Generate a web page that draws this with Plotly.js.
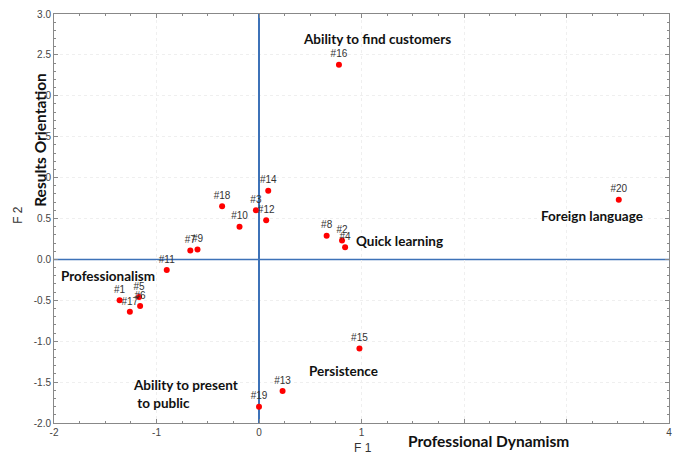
<!DOCTYPE html>
<html><head><meta charset="utf-8">
<script src="https://cdn.plot.ly/plotly-3.0.1.min.js"></script>
<style>html,body{margin:0;padding:0;background:#fff}#chart{width:684px;height:454px}</style>
</head><body><div id="chart"></div>
<script>
// Data
const pointLabels = ["#1","#2","#3","#4","#5","#6","#7","#8","#9","#10","#11","#12","#13","#14","#15","#16","#17","#18","#19","#20"];
const f1Values = [-1.36, 0.81, -0.03, 0.84, -1.17, -1.16, -0.67, 0.66, -0.60, -0.19, -0.90, 0.07, 0.23, 0.09, 0.98, 0.78, -1.26, -0.36, 0.00, 3.51];
const f2Values = [-0.50, 0.23, 0.60, 0.15, -0.46, -0.57, 0.11, 0.29, 0.12, 0.40, -0.13, 0.48, -1.61, 0.84, -1.09, 2.38, -0.64, 0.65, -1.80, 0.73];

const xTickVals = [-2, -1, 0, 1, 2, 3, 4];
const xTickText = ["-2", "-1", "0", "1", "", "", "4"];
const yTickVals = [-2.0, -1.5, -1.0, -0.5, 0.0, 0.5, 1.0, 1.5, 2.0, 2.5, 3.0];
const yTickText = ["-2.0", "-1.5", "-1.0", "-0.5", "0.0", "0.5", ".0", ".5", ".0", "2.5", "3.0"];

const groupNames = ["Ability to find customers", "Foreign language", "Quick learning", "Professionalism", "Persistence", "Ability to present<br> to public"];
const groupX = [1.15, 3.25, 1.37, -1.47, 0.82, -0.72];
const groupY = [2.70, 0.53, 0.23, -0.20, -1.37, -1.65];

const boldFont = {family: "Lato, 'Open Sans', sans-serif", size: 13.5, color: "#111"};

const annotations = groupNames.map((t, i) => ({
  x: groupX[i], y: groupY[i], xref: "x", yref: "y", text: "<b>" + t + "</b>",
  showarrow: false, font: boldFont, align: "left", xanchor: "center", yanchor: "middle"
}));
annotations.push(
  {xref: "paper", yref: "paper", x: 0.502, y: -0.061, text: "F 1", showarrow: false,
   font: {family: "Liberation Sans, Arial", size: 12, color: "#333"}, xanchor: "center", yanchor: "middle"},
  {xref: "paper", yref: "paper", x: 0.707, y: -0.044, text: "<b>Professional Dynamism</b>", showarrow: false,
   font: {family: "Lato, sans-serif", size: 15.5, color: "#111"}, xanchor: "center", yanchor: "middle"},
  {xref: "paper", yref: "paper", x: -0.0585, y: 0.509, text: "F 2", showarrow: false, textangle: -90,
   font: {family: "Liberation Sans, Arial", size: 12, color: "#333"}, xanchor: "center", yanchor: "middle"},
  {xref: "paper", yref: "paper", x: -0.023, y: 0.692, text: "<b>Results Orientation</b>", showarrow: false, textangle: -90,
   font: {family: "Lato, sans-serif", size: 15.5, color: "#111"}, xanchor: "center", yanchor: "middle"}
);

const trace = {
  x: f1Values, y: f2Values, text: pointLabels, mode: "markers+text", type: "scatter",
  textposition: "top center",
  textfont: {family: "Liberation Sans, Arial", size: 10, color: "#333"},
  marker: {color: "#ff0000", size: 6},
  cliponaxis: false, hoverinfo: "none"
};

const axisCommon = {
  showline: true, linecolor: "#888", linewidth: 1, mirror: "ticks",
  ticks: "inside", ticklen: 4, tickcolor: "#888",
  showgrid: true, gridcolor: "#efefef", griddash: "dot",
  zeroline: true, zerolinecolor: "#3d72b8", zerolinewidth: 1.5,
  tickfont: {family: "Liberation Sans, Arial", size: 10, color: "#444"},
  tickmode: "array", fixedrange: true
};

const layout = {
  width: 684, height: 454,
  margin: {l: 54, r: 15, t: 14, b: 31},
  paper_bgcolor: "#fff", plot_bgcolor: "#fff",
  showlegend: false,
  xaxis: Object.assign({}, axisCommon, {range: [-2, 4], tickvals: xTickVals, ticktext: xTickText,
    minor: {dtick: 0.25, ticks: "inside", ticklen: 2, tickcolor: "#888", showgrid: false}}),
  yaxis: Object.assign({}, axisCommon, {range: [-2, 3], tickvals: yTickVals, ticktext: yTickText,
    minor: {dtick: 0.1, ticks: "inside", ticklen: 2, tickcolor: "#888", showgrid: false}}),
  shapes: [{type: "line", xref: "paper", x0: 0, x1: 1, yref: "y", y0: 0, y1: 0,
    line: {color: "#3d72b8", width: 1.5}, layer: "below"}],
  annotations: annotations
};

Plotly.newPlot("chart", [trace], layout, {displayModeBar: false, staticPlot: true});
</script></body></html>
